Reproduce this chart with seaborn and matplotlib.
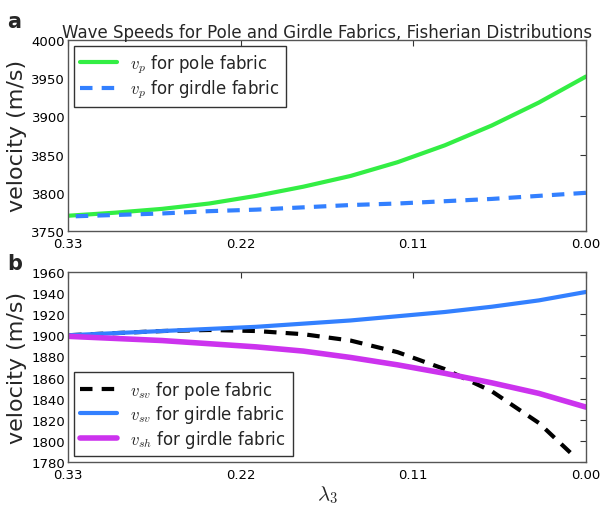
import numpy as np
import pandas as pd
import seaborn as sns
import matplotlib
matplotlib.use("Agg")
import matplotlib.pyplot as plt

sns.set_style("white")
plt.rcParams["font.family"] = ["DejaVu Sans"]
plt.rcParams["mathtext.fontset"] = "cm"

# eigenvalue lambda_3 of the orientation tensor
lam = [0.33, 0.30, 0.27, 0.24, 0.21, 0.18, 0.15, 0.12, 0.09, 0.06, 0.03, 0.00]

# P-wave speeds (m/s)
vp_pole = [3770, 3774, 3779, 3786, 3796, 3808, 3822, 3840, 3862, 3888, 3918, 3952]
vp_girdle = [3769, 3771, 3773, 3776, 3778, 3781, 3784, 3786, 3789, 3792, 3796, 3800]

# S-wave speeds (m/s)
lam_sv_pole = [0.33, 0.30, 0.27, 0.24, 0.21, 0.18, 0.15, 0.12, 0.09, 0.06, 0.03, 0.01]
vsv_pole = [1900, 1902, 1904, 1905, 1904, 1901, 1895, 1884, 1868, 1847, 1817, 1789]
vsv_girdle = [1900, 1902, 1904, 1906, 1908, 1911, 1914, 1918, 1922, 1927, 1933, 1941]
vsh_girdle = [1899, 1897, 1895, 1892, 1889, 1885, 1879, 1872, 1864, 1855, 1845, 1832]

xticks = [0.33, 0.22, 0.11, 0.00]
xticklabels = ["0.33", "0.22", "0.11", "0.00"]

fig = plt.figure(figsize=(6.01, 5.10), dpi=100)
ax1 = fig.add_axes([0.113, 0.545, 0.862, 0.375])
ax2 = fig.add_axes([0.113, 0.092, 0.862, 0.373])

df_p = pd.DataFrame({
    "lam": lam * 2,
    "v": vp_pole + vp_girdle,
    "series": ["pole"] * len(lam) + ["girdle"] * len(lam),
})
sns.lineplot(data=df_p[df_p.series == "pole"], x="lam", y="v", ax=ax1,
             color="#33ee44", lw=3, label=r"$v_p$ for pole fabric")
sns.lineplot(data=df_p[df_p.series == "girdle"], x="lam", y="v", ax=ax1,
             color="#3380ff", lw=3, ls=(0, (3, 2.2)), label=r"$v_p$ for girdle fabric")

df_sv = pd.DataFrame({"lam": lam_sv_pole, "v": vsv_pole})
df_g = pd.DataFrame({"lam": lam, "sv": vsv_girdle, "sh": vsh_girdle})
sns.lineplot(data=df_sv, x="lam", y="v", ax=ax2, color="black", lw=3,
             ls=(0, (3, 2.2)), label=r"$v_{sv}$ for pole fabric")
sns.lineplot(data=df_g, x="lam", y="sv", ax=ax2, color="#3380ff", lw=3,
             label=r"$v_{sv}$ for girdle fabric")
sns.lineplot(data=df_g, x="lam", y="sh", ax=ax2, color="#cc33ee", lw=4,
             label=r"$v_{sh}$ for girdle fabric")

for ax in (ax1, ax2):
    ax.set_xlim(0.33, 0.0)
    ax.set_xticks(xticks)
    ax.set_xticklabels(xticklabels)
    ax.tick_params(direction="in", length=4, width=0.8, top=True, right=True,
                   labelsize=9.5, colors="#333333", labelcolor="black")
    ax.tick_params(axis="x", pad=4)
    ax.tick_params(axis="y", pad=2)
    for s in ax.spines.values():
        s.set_color("#555555")
        s.set_linewidth(1.0)
    ax.set_ylabel("velocity (m/s)", fontsize=16, labelpad=3)
    ax.set_xlabel("")

ax1.set_ylim(3750, 4000)
ax1.set_yticks(np.arange(3750, 4001, 50))
ax2.set_ylim(1780, 1960)
ax2.set_yticks(np.arange(1780, 1961, 20))

ax1.set_title("Wave Speeds for Pole and Girdle Fabrics, Fisherian Distributions",
              fontsize=12, pad=2)
ax2.set_xlabel(r"$\lambda_3$", fontsize=15, labelpad=2)

leg_kw = dict(fontsize=12, frameon=True, fancybox=False, edgecolor="#333333",
              handlelength=2.2, borderpad=0.4, labelspacing=0.15,
              borderaxespad=0.35)
l1 = ax1.legend(loc="upper left", **leg_kw)
l2 = ax2.legend(loc="lower left", **leg_kw)
for l in (l1, l2):
    l.get_frame().set_linewidth(1.0)
    l.get_frame().set_alpha(1)

fig.text(0.012, 0.945, "a", fontsize=15, fontweight="bold")
fig.text(0.012, 0.47, "b", fontsize=15, fontweight="bold")

fig.savefig("out.png", dpi=100)
